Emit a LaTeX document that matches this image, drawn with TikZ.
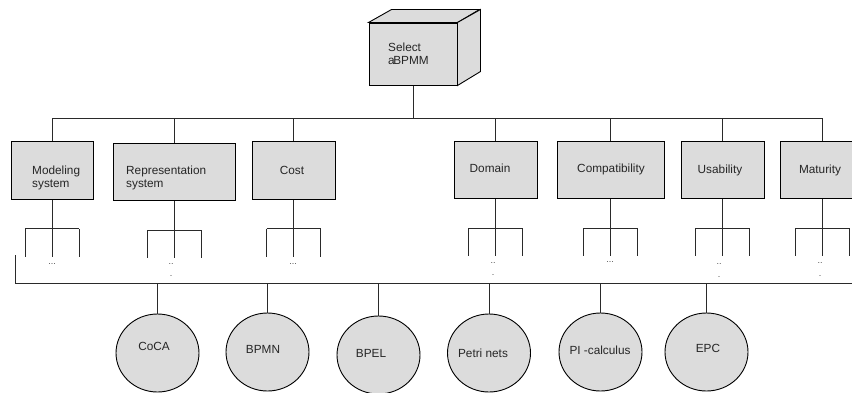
\documentclass[tikz,border=0pt]{standalone}
\usepackage{fontspec}
\setmainfont{Liberation Sans}
\usetikzlibrary{shapes.geometric}
\definecolor{boxgray}{HTML}{DCDCDC}
\definecolor{linegray}{HTML}{2A2A2A}
\begin{document}
\begin{tikzpicture}[x=1pt,y=-1pt,
  crit/.style={draw=black, line width=1pt, fill=boxgray, inner sep=0pt, minimum height=57.5pt},
  lang/.style={ellipse, draw=black, line width=0.9pt, fill=boxgray, inner sep=0pt, minimum width=83pt, minimum height=78pt},
  txt/.style={inner sep=0pt, align=left, font=\fontsize{11.8}{13}\selectfont, text=black!85},
  dots/.style={inner sep=0pt, font=\fontsize{9}{5}\selectfont, text=black!70},
  conn/.style={draw=linegray, line width=0.9pt}]
\useasboundingbox (0,0) rectangle (852,392);
\clip (0,0) rectangle (852,392);
% top cube
\node[crit, minimum width=88pt, minimum height=62pt] (sel) at (413,54) {};
\draw[line width=0.9pt, fill=boxgray] (sel.north west) -- ++(23,-13) -- ++(88,0) -- (sel.north east) -- cycle;
\draw[line width=0.9pt, fill=boxgray] (sel.north east) -- ++(23,-13) -- ++(0,62) -- (sel.south east) -- cycle;
\node[txt, anchor=west] (selt) at (388,54) {Select\\a\kern-1.5pt BPMM};
% criteria boxes
\node[crit, minimum width=82pt] (mod) at (52,170.5) {};
\node[crit, minimum width=122pt] (rep) at (174,172) {};
\node[crit, minimum width=83pt] (cost) at (293.5,170.5) {};
\node[crit, minimum width=83pt] (dom) at (495.5,170) {};
\node[crit, minimum width=107pt] (comp) at (610.5,170) {};
\node[crit, minimum width=83pt] (usa) at (722.5,170) {};
\node[crit, minimum width=83pt] (mat) at (822,170) {};
\node[txt, anchor=west] (modt) at (32,177.5) {Modeling\\system};
\node[txt, anchor=west] (rept) at (126,178) {Representation\\system};
\node[txt] (costt) at (292,170) {Cost};
\node[txt] (domt) at (490,168) {Domain};
\node[txt] (compt) at (611,169) {Compatibility};
\node[txt] (usat) at (720,170) {Usability};
\node[txt] (matt) at (820,170) {Maturity};
% top bus
\coordinate (tb) at (0,118);
\draw[conn] (sel.south) -- (sel.south |- tb);
\draw[conn] (mod.north |- tb) -- (mat.north |- tb);
\foreach \b in {mod,rep,cost,dom,comp,usa,mat}{
  \draw[conn] (\b.north |- tb) -- (\b.north);
  \draw[conn] (\b.south) -- ++(0,29) coordinate (\b-f);
  \draw[conn] ([xshift=-27pt]\b-f) -- ([xshift=27pt]\b-f);
  \draw[conn] ([xshift=-27pt]\b-f) -- ++(0,28);
  \draw[conn] (\b-f) -- ++(0,28);
  \draw[conn] ([xshift=27pt]\b-f) -- ++(0,28);
}
% dots
\node[dots] (d1) at (52,264) {...};
\node[dots] (d2a) at (171,264) {..};
\node[dots] (d2b) at (171,276) {.};
\node[dots] (d3) at (293,264) {...};
\node[dots] (d4a) at (493,263) {..};
\node[dots] (d4b) at (493,275) {.};
\node[dots] (d5) at (610,262) {...};
\node[dots] (d6a) at (719,264) {..};
\node[dots] (d6b) at (719,277) {.};
\node[dots] (d7a) at (820,263) {..};
\node[dots] (d7b) at (820,276) {.};
% bottom bus
\coordinate (bl) at (15,255);
\coordinate (bb) at (15,283);
\coordinate (br) at (852,283);
\draw[conn] (bl) -- (bb) -- (br);
% languages
\node[lang] (coca) at (157.5,353) {};
\node[lang] (bpmn) at (267.5,352) {};
\node[lang] (bpel) at (378.5,355) {};
\node[lang] (petri) at (489,353) {};
\node[lang] (pi) at (600.5,352) {};
\node[lang] (epc) at (706.5,352) {};
\node[txt] (cocat) at (154,346) {CoCA};
\node[txt] (bpmnt) at (263,349) {BPMN};
\node[txt] (bpelt) at (371,353) {BPEL};
\node[txt] (petrit) at (483,353) {Petri nets};
\node[txt] (pit) at (600,350) {PI -calculus};
\node[txt] (epct) at (708,348) {EPC};
\foreach \c in {coca,bpmn,bpel,petri,pi,epc}{
  \draw[conn] (\c.north |- bb) -- (\c.north);
}
\end{tikzpicture}
\end{document}
